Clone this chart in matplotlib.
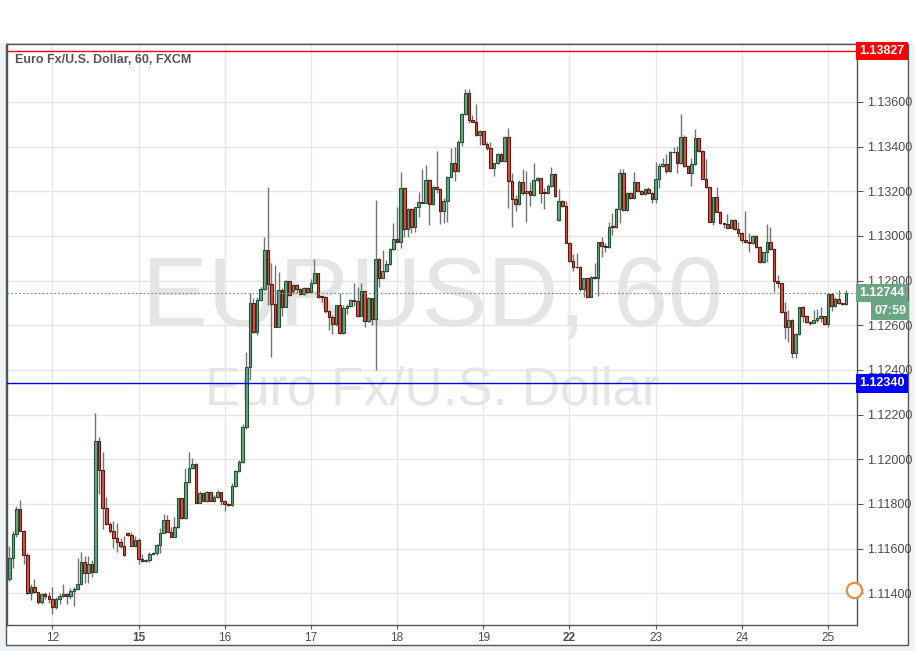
import matplotlib
matplotlib.use("Agg")
import matplotlib.pyplot as plt
import matplotlib.transforms as mtransforms
from matplotlib.patches import Rectangle
from matplotlib.lines import Line2D
import numpy as np

plt.rcParams['font.family'] = ['Liberation Sans', 'DejaVu Sans']

# hourly candles, EUR/USD FXCM
opens = [
    1.11463, 1.11560, 1.11665, 1.11776, 1.11680, 1.11570, 1.11400, 1.11430, 1.11405, 1.11360, 1.11396, 1.11386,
    1.11376, 1.11340, 1.11373, 1.11387, 1.11396, 1.11390, 1.11412, 1.11421, 1.11441, 1.11542, 1.11490, 1.11532,
    1.11497, 1.12084, 1.11950, 1.11781, 1.11710, 1.11680, 1.11647, 1.11630, 1.11610, 1.11670, 1.11660, 1.11614,
    1.11640, 1.11553, 1.11547, 1.11549, 1.11575, 1.11580, 1.11617, 1.11670, 1.11729, 1.11676, 1.11654, 1.11696,
    1.11826, 1.11736, 1.11897, 1.11960, 1.11980, 1.11806, 1.11848, 1.11815, 1.11852, 1.11814, 1.11830, 1.11852,
    1.11814, 1.11802, 1.11796, 1.11881, 1.11948, 1.11990, 1.12144, 1.12412, 1.12698, 1.12572, 1.12713, 1.12761,
    1.12937, 1.12784, 1.12694, 1.12594, 1.12758, 1.12683, 1.12798, 1.12755, 1.12779, 1.12764, 1.12739, 1.12765,
    1.12751, 1.12788, 1.12833, 1.12730, 1.12725, 1.12664, 1.12636, 1.12604, 1.12690, 1.12564, 1.12679, 1.12686,
    1.12713, 1.12710, 1.12643, 1.12754, 1.12619, 1.12721, 1.12627, 1.12895, 1.12813, 1.12843, 1.12873, 1.12940,
    1.12985, 1.12974, 1.13213, 1.13030, 1.13120, 1.13039, 1.13128, 1.13151, 1.13148, 1.13251, 1.13142, 1.13218,
    1.13209, 1.13113, 1.13157, 1.13266, 1.13325, 1.13291, 1.13422, 1.13545, 1.13639, 1.13520, 1.13512, 1.13452,
    1.13470, 1.13411, 1.13393, 1.13306, 1.13325, 1.13367, 1.13336, 1.13442, 1.13246, 1.13164, 1.13142, 1.13240,
    1.13191, 1.13203, 1.13182, 1.13251, 1.13258, 1.13197, 1.13191, 1.13225, 1.13278, 1.13072, 1.13157, 1.13134,
    1.12970, 1.12890, 1.12863, 1.12859, 1.12761, 1.12810, 1.12728, 1.12818, 1.12810, 1.12972, 1.12957, 1.12949,
    1.13045, 1.13042, 1.13119, 1.13281, 1.13116, 1.13191, 1.13169, 1.13240, 1.13203, 1.13187, 1.13209, 1.13194,
    1.13167, 1.13254, 1.13314, 1.13322, 1.13293, 1.13378, 1.13375, 1.13325, 1.13442, 1.13313, 1.13284, 1.13321,
    1.13437, 1.13381, 1.13257, 1.13218, 1.13064, 1.13173, 1.13109, 1.13057, 1.13052, 1.13037, 1.13072, 1.13030,
    1.13012, 1.12982, 1.12973, 1.12967, 1.13000, 1.12949, 1.12885, 1.12927, 1.12971, 1.12940, 1.12800, 1.12788,
    1.12658, 1.12594, 1.12624, 1.12474, 1.12560, 1.12680, 1.12642, 1.12616, 1.12612, 1.12624, 1.12633, 1.12642,
    1.12604, 1.12739, 1.12686, 1.12718, 1.12698, 1.12694,
]
highs = [
    1.11610, 1.11680, 1.11791, 1.11818, 1.11685, 1.11579, 1.11440, 1.11465, 1.11405, 1.11400, 1.11405, 1.11405,
    1.11427, 1.11385, 1.11400, 1.11442, 1.11400, 1.11426, 1.11427, 1.11557, 1.11587, 1.11567, 1.11565, 1.11550,
    1.12206, 1.12099, 1.12032, 1.11833, 1.11721, 1.11724, 1.11717, 1.11647, 1.11657, 1.11674, 1.11676, 1.11657,
    1.11647, 1.11576, 1.11553, 1.11587, 1.11585, 1.11620, 1.11691, 1.11754, 1.11751, 1.11699, 1.11741, 1.11829,
    1.11829, 1.11960, 1.12035, 1.12005, 1.11983, 1.11856, 1.11851, 1.11856, 1.11855, 1.11841, 1.11863, 1.11855,
    1.11818, 1.11806, 1.11893, 1.11953, 1.11997, 1.12157, 1.12482, 1.12743, 1.12721, 1.12728, 1.12773, 1.12997,
    1.13221, 1.12878, 1.12870, 1.12840, 1.12765, 1.12803, 1.12800, 1.12783, 1.12783, 1.12769, 1.12770, 1.12770,
    1.12806, 1.12895, 1.12836, 1.12733, 1.12731, 1.12668, 1.12646, 1.12691, 1.12743, 1.12691, 1.12695, 1.12716,
    1.12791, 1.12773, 1.12788, 1.12754, 1.12728, 1.12724, 1.13160, 1.12900, 1.12937, 1.12892, 1.12945, 1.13060,
    1.13131, 1.13288, 1.13218, 1.13124, 1.13124, 1.13131, 1.13199, 1.13300, 1.13318, 1.13254, 1.13224, 1.13382,
    1.13213, 1.13169, 1.13269, 1.13395, 1.13400, 1.13430, 1.13552, 1.13658, 1.13658, 1.13542, 1.13591, 1.13474,
    1.13472, 1.13422, 1.13422, 1.13328, 1.13370, 1.13370, 1.13448, 1.13482, 1.13284, 1.13184, 1.13251, 1.13298,
    1.13293, 1.13243, 1.13328, 1.13266, 1.13261, 1.13213, 1.13233, 1.13307, 1.13281, 1.13211, 1.13160, 1.13158,
    1.12974, 1.12920, 1.12922, 1.12865, 1.12810, 1.12810, 1.12821, 1.12877, 1.12974, 1.12997, 1.12968, 1.13064,
    1.13104, 1.13124, 1.13299, 1.13299, 1.13198, 1.13198, 1.13285, 1.13243, 1.13206, 1.13213, 1.13218, 1.13198,
    1.13333, 1.13325, 1.13348, 1.13367, 1.13382, 1.13400, 1.13403, 1.13546, 1.13452, 1.13318, 1.13348, 1.13478,
    1.13440, 1.13385, 1.13343, 1.13221, 1.13176, 1.13218, 1.13113, 1.13060, 1.13098, 1.13075, 1.13075, 1.13064,
    1.13019, 1.13112, 1.13012, 1.13004, 1.13004, 1.12955, 1.12933, 1.13054, 1.13042, 1.12945, 1.12825, 1.12791,
    1.12706, 1.12668, 1.12627, 1.12564, 1.12683, 1.12686, 1.12646, 1.12621, 1.12668, 1.12671, 1.12680, 1.12643,
    1.12743, 1.12743, 1.12728, 1.12758, 1.12701, 1.12758,
]
lows = [
    1.11455, 1.11513, 1.11651, 1.11677, 1.11530, 1.11398, 1.11368, 1.11400, 1.11353, 1.11353, 1.11375, 1.11355,
    1.11308, 1.11329, 1.11350, 1.11382, 1.11353, 1.11375, 1.11345, 1.11415, 1.11438, 1.11448, 1.11448, 1.11475,
    1.11497, 1.11845, 1.11687, 1.11707, 1.11672, 1.11602, 1.11587, 1.11602, 1.11567, 1.11657, 1.11610, 1.11609,
    1.11532, 1.11542, 1.11540, 1.11542, 1.11570, 1.11572, 1.11580, 1.11670, 1.11673, 1.11654, 1.11654, 1.11693,
    1.11733, 1.11733, 1.11893, 1.11957, 1.11803, 1.11803, 1.11812, 1.11811, 1.11812, 1.11811, 1.11826, 1.11796,
    1.11770, 1.11790, 1.11791, 1.11878, 1.11945, 1.11982, 1.12135, 1.12355, 1.12564, 1.12557, 1.12710, 1.12758,
    1.12691, 1.12460, 1.12591, 1.12591, 1.12643, 1.12680, 1.12733, 1.12740, 1.12743, 1.12736, 1.12736, 1.12746,
    1.12748, 1.12785, 1.12721, 1.12706, 1.12654, 1.12579, 1.12560, 1.12597, 1.12561, 1.12561, 1.12651, 1.12681,
    1.12686, 1.12639, 1.12640, 1.12594, 1.12616, 1.12601, 1.12400, 1.12770, 1.12810, 1.12840, 1.12870, 1.12937,
    1.12971, 1.12948, 1.12994, 1.12994, 1.13012, 1.13019, 1.13084, 1.13146, 1.13146, 1.13050, 1.13139, 1.13191,
    1.13052, 1.13060, 1.13064, 1.13263, 1.13248, 1.13288, 1.13404, 1.13542, 1.13508, 1.13509, 1.13448, 1.13407,
    1.13408, 1.13385, 1.13303, 1.13270, 1.13322, 1.13333, 1.13333, 1.13124, 1.13039, 1.13113, 1.13139, 1.13184,
    1.13064, 1.13134, 1.13179, 1.13248, 1.13149, 1.13121, 1.13188, 1.13220, 1.13176, 1.13069, 1.13130, 1.12967,
    1.12885, 1.12845, 1.12855, 1.12755, 1.12728, 1.12721, 1.12728, 1.12806, 1.12731, 1.12907, 1.12930, 1.12945,
    1.13004, 1.13034, 1.13057, 1.13113, 1.13113, 1.13166, 1.13166, 1.13198, 1.13184, 1.13184, 1.13188, 1.13146,
    1.13149, 1.13213, 1.13310, 1.13281, 1.13288, 1.13370, 1.13281, 1.13322, 1.13310, 1.13281, 1.13224, 1.13318,
    1.13378, 1.13254, 1.13214, 1.13061, 1.13049, 1.13106, 1.13054, 1.13034, 1.13034, 1.13034, 1.13027, 1.12994,
    1.12967, 1.12967, 1.12929, 1.12964, 1.12945, 1.12877, 1.12880, 1.12885, 1.12937, 1.12751, 1.12765, 1.12654,
    1.12537, 1.12527, 1.12452, 1.12452, 1.12557, 1.12616, 1.12612, 1.12601, 1.12609, 1.12616, 1.12616, 1.12601,
    1.12591, 1.12665, 1.12683, 1.12695, 1.12690, 1.12691,
]
closes = [
    1.11560, 1.11665, 1.11776, 1.11680, 1.11570, 1.11400, 1.11430, 1.11405, 1.11360, 1.11396, 1.11386, 1.11376,
    1.11340, 1.11373, 1.11387, 1.11396, 1.11390, 1.11412, 1.11421, 1.11441, 1.11542, 1.11490, 1.11532, 1.11497,
    1.12084, 1.11950, 1.11781, 1.11710, 1.11680, 1.11647, 1.11630, 1.11610, 1.11570, 1.11660, 1.11614, 1.11640,
    1.11553, 1.11547, 1.11549, 1.11576, 1.11580, 1.11617, 1.11670, 1.11729, 1.11676, 1.11654, 1.11696, 1.11826,
    1.11736, 1.11897, 1.11960, 1.11980, 1.11806, 1.11848, 1.11815, 1.11852, 1.11814, 1.11830, 1.11852, 1.11814,
    1.11802, 1.11796, 1.11881, 1.11948, 1.11990, 1.12144, 1.12412, 1.12698, 1.12572, 1.12713, 1.12761, 1.12937,
    1.12784, 1.12694, 1.12594, 1.12758, 1.12683, 1.12798, 1.12736, 1.12779, 1.12764, 1.12739, 1.12765, 1.12751,
    1.12788, 1.12833, 1.12725, 1.12725, 1.12664, 1.12636, 1.12604, 1.12690, 1.12564, 1.12679, 1.12686, 1.12713,
    1.12710, 1.12643, 1.12754, 1.12619, 1.12721, 1.12627, 1.12895, 1.12813, 1.12843, 1.12873, 1.12940, 1.12985,
    1.12974, 1.13213, 1.13030, 1.13120, 1.13039, 1.13128, 1.13151, 1.13148, 1.13251, 1.13142, 1.13218, 1.13209,
    1.13113, 1.13157, 1.13266, 1.13325, 1.13291, 1.13422, 1.13545, 1.13639, 1.13520, 1.13512, 1.13452, 1.13470,
    1.13411, 1.13393, 1.13306, 1.13325, 1.13367, 1.13336, 1.13442, 1.13246, 1.13164, 1.13142, 1.13240, 1.13191,
    1.13203, 1.13182, 1.13251, 1.13258, 1.13191, 1.13191, 1.13225, 1.13278, 1.13181, 1.13157, 1.13134, 1.12970,
    1.12890, 1.12863, 1.12859, 1.12761, 1.12810, 1.12728, 1.12818, 1.12810, 1.12972, 1.12957, 1.12949, 1.13039,
    1.13042, 1.13119, 1.13281, 1.13116, 1.13191, 1.13169, 1.13240, 1.13203, 1.13187, 1.13209, 1.13194, 1.13167,
    1.13254, 1.13314, 1.13322, 1.13293, 1.13378, 1.13375, 1.13325, 1.13442, 1.13313, 1.13284, 1.13321, 1.13437,
    1.13381, 1.13257, 1.13218, 1.13064, 1.13173, 1.13109, 1.13057, 1.13052, 1.13037, 1.13072, 1.13030, 1.13012,
    1.12982, 1.12973, 1.12967, 1.13000, 1.12949, 1.12885, 1.12927, 1.12971, 1.12940, 1.12800, 1.12788, 1.12658,
    1.12594, 1.12624, 1.12474, 1.12560, 1.12680, 1.12642, 1.12616, 1.12612, 1.12624, 1.12633, 1.12642, 1.12604,
    1.12739, 1.12686, 1.12718, 1.12698, 1.12694, 1.12744,
]

day_labels = ['12', '15', '16', '17', '18', '19', '22', '23', '24', '25']
day_starts = [12, 36, 60, 84, 108, 132, 156, 180, 204, 228]   # candle index of 00:00
price_ticks = [1.114, 1.116, 1.118, 1.120, 1.122, 1.124, 1.126, 1.128, 1.130, 1.132, 1.134, 1.136]

resistance = 1.13827
support = 1.12340
last_price = 1.12744
countdown = '07:59'

up_fill, up_edge = '#6ba583', '#225437'
dn_fill, dn_edge = '#d75442', '#5b1a13'
wick_col = '#737375'

fig = plt.figure(figsize=(9.15, 6.51), dpi=100, facecolor='#f0f3f6')
W, H = 915, 651
# white chart panel with frame, behind the axes
fig.patches.append(Rectangle((6 / W, 1 - 645 / H), 902 / W, 601 / H, transform=fig.transFigure,
                             facecolor='white', edgecolor='#555555', lw=1, zorder=-10))
fig.patches.append(Rectangle((0, 1 - 43 / H), 1, 43 / H, transform=fig.transFigure,
                             facecolor='white', edgecolor='none', zorder=-10))

ax = fig.add_axes([7 / W, 1 - 625 / H, 850 / W, 581 / H])
ax.set_zorder(1)
ax.set_facecolor('white')

x = np.arange(len(closes))
o = np.array(opens)
c = np.array(closes)
up = c >= o

ax.vlines(x, lows, highs, color=wick_col, lw=1, zorder=2)
bottoms = np.minimum(o, c)
heights = np.maximum(np.abs(c - o), 0.000005)
ax.bar(x[up], heights[up], bottom=bottoms[up], width=0.72, color=up_fill,
       edgecolor=up_edge, lw=0.8, zorder=3)
ax.bar(x[~up], heights[~up], bottom=bottoms[~up], width=0.72, color=dn_fill,
       edgecolor=dn_edge, lw=0.8, zorder=3)

ax.set_xlim(-0.64, 236.1)
ax.set_ylim(1.112582, 1.138597)

ax.set_xticks(day_starts)
ax.set_xticklabels(day_labels)
ax.set_yticks(price_ticks)
ax.set_yticklabels(['%.5f' % p for p in price_ticks])
ax.yaxis.tick_right()
ax.tick_params(axis='y', direction='out', length=4, color='#555555', labelcolor='#4d4d4d',
               labelsize=9, pad=3)
ax.tick_params(axis='x', direction='out', length=3, color='#555555', labelcolor='#4d4d4d',
               labelsize=8.5, pad=2)
for lab, d in zip(ax.get_xticklabels(), day_labels):
    if d in ('15', '22'):
        lab.set_fontweight('bold')
ax.grid(True, color='#e6e6e6', lw=1, zorder=0)
ax.set_axisbelow(True)
for s in ax.spines.values():
    s.set_color('#555555')
    s.set_linewidth(1)

# watermark
ax.text(0.5, 0.559, 'EURUSD, 60', transform=ax.transAxes, ha='center', va='center',
        fontsize=71, color='#e5e5e5', zorder=1)
ax.text(0.5, 0.404, 'Euro Fx/U.S. Dollar', transform=ax.transAxes, ha='center', va='center',
        fontsize=38, color='#e5e5e5', zorder=1)

ax.text(0.0094, 0.972, 'Euro Fx/U.S. Dollar, 60, FXCM', transform=ax.transAxes, ha='left',
        va='center', fontsize=9, fontweight='bold', color='#555555', zorder=5)

# horizontal levels
ax.axhline(resistance, color='#ff0000', lw=1, zorder=4)
ax.axhline(support, color='#0000ff', lw=1, zorder=4)
ax.axhline(last_price, color='#6b8f7a', lw=0.8, ls=(0, (1.5, 2)), zorder=4)

trans = mtransforms.blended_transform_factory(ax.transAxes, ax.transData)
for val, col in [(resistance, '#ff0000'), (support, '#0000ff'), (last_price, up_fill)]:
    ax.text(1.003, val, '%.5f' % val, transform=trans, ha='left', va='center', fontsize=9,
            fontweight='bold', color='white', clip_on=False, zorder=6,
            bbox=dict(boxstyle='square,pad=0.25', fc=col, ec='none'))
ax.annotate(countdown, xy=(1, last_price), xycoords=trans, xytext=(35.5, -12.5),
            textcoords='offset points', ha='right', va='center', fontsize=9, fontweight='bold',
            color='white', annotation_clip=False, zorder=6,
            bbox=dict(boxstyle='square,pad=0.25', fc=up_fill, ec='none'))

# small logo ring at bottom right
fig.add_artist(Line2D([854 / W], [1 - 590 / H], transform=fig.transFigure, marker='o', ms=11,
                      mfc='white', mec='#e8903c', mew=1.6, zorder=5))

fig.savefig('out.png', dpi=100, facecolor=fig.get_facecolor())
